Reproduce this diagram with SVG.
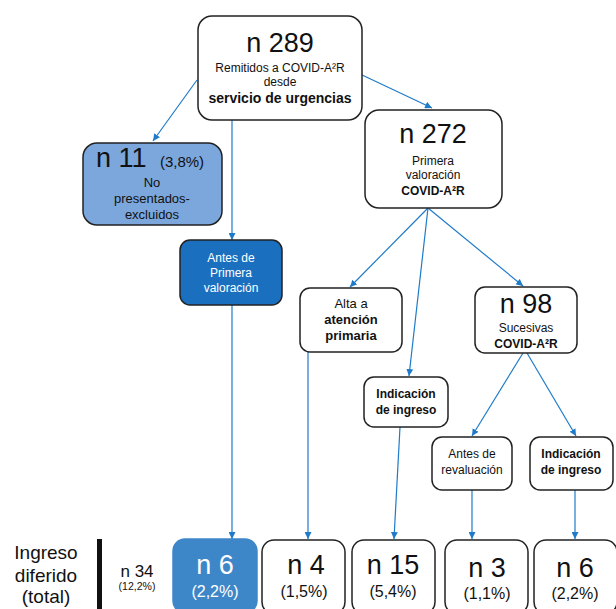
<svg xmlns="http://www.w3.org/2000/svg" width="616" height="609" viewBox="0 0 616 609">
<defs>
<marker id="ah" viewBox="0 0 10 10" refX="10" refY="5" markerWidth="7" markerHeight="7" markerUnits="userSpaceOnUse" orient="auto">
<path d="M0,0 L10,5 L0,10 z" fill="#1f7bc9"/>
</marker>
<style>
text{font-family:"Liberation Sans","Noto Sans",sans-serif;fill:#111;text-anchor:middle}
.box{fill:#fff;stroke:#222;stroke-width:1.5}
.big{font-size:27px}
.sm{font-size:12px}
.md{font-size:13px}
.b{font-weight:bold}
.w{fill:#fff}
.conn line{stroke:#1f7bc9;stroke-width:1.2;marker-end:url(#ah)}
</style>
</defs>
<rect width="616" height="609" fill="#fff"/>
<g class="conn">
<line x1="197" y1="80" x2="153" y2="141"/>
<line x1="232" y1="120" x2="232" y2="240"/>
<line x1="232" y1="305" x2="232" y2="539"/>
<line x1="360" y1="74" x2="432" y2="108"/>
<line x1="428" y1="208" x2="350" y2="287"/>
<line x1="428" y1="208" x2="409" y2="376"/>
<line x1="428" y1="208" x2="523" y2="286"/>
<line x1="308" y1="352" x2="308" y2="539"/>
<line x1="400" y1="427" x2="394" y2="539"/>
<line x1="523" y1="353" x2="472" y2="436"/>
<line x1="527" y1="353" x2="576" y2="436"/>
<line x1="472" y1="490" x2="472" y2="539"/>
<line x1="575" y1="490" x2="575" y2="539"/>
</g>
<g id="n289">
<rect class="box" x="198" y="16" width="164" height="104" rx="14" stroke-width="2"/>
<text x="280" y="52" class="big">n 289</text>
<text x="280" y="72" class="sm">Remitidos a COVID-A²R</text>
<text x="280" y="86" class="sm">desde</text>
<text x="280" y="103" class="b" font-size="14">servicio de urgencias</text>
</g>
<g id="n11">
<rect x="83" y="143" width="139" height="82" rx="14" fill="#7ba7dc" stroke="#222" stroke-width="1.5"/>
<text x="96" y="167" class="big" style="text-anchor:start">n 11</text>
<text x="182" y="167" font-size="15">(3,8%)</text>
<text x="152" y="187" class="md">No</text>
<text x="152" y="203" class="md">presentados-</text>
<text x="152" y="219" class="md">excluidos</text>
</g>
<g id="antes1">
<rect x="180" y="240" width="102" height="65" rx="10" fill="#1a6fbf" stroke="#222" stroke-width="1.5"/>
<text x="231" y="262" class="sm w">Antes de</text>
<text x="231" y="277" class="sm w">Primera</text>
<text x="231" y="292" class="sm w">valoración</text>
</g>
<g id="n272">
<rect class="box" x="365" y="110" width="137" height="98" rx="14"/>
<text x="433" y="143" class="big">n 272</text>
<text x="433" y="165" class="sm">Primera</text>
<text x="433" y="179" class="sm">valoración</text>
<text x="433" y="195" class="sm b">COVID-A²R</text>
</g>
<g id="alta">
<rect class="box" x="300" y="288" width="102" height="64" rx="10"/>
<text x="351" y="308" class="md">Alta a</text>
<text x="351" y="324" class="md b">atención</text>
<text x="351" y="340" class="md b">primaria</text>
</g>
<g id="indic1">
<rect class="box" x="364" y="377" width="84" height="50" rx="10"/>
<text x="406" y="398" class="sm b">Indicación</text>
<text x="406" y="414" class="sm b">de ingreso</text>
</g>
<g id="n98">
<rect class="box" x="475" y="287" width="102" height="66" rx="10"/>
<text x="526" y="313" class="big" font-size="26">n 98</text>
<text x="526" y="332" class="sm">Sucesivas</text>
<text x="526" y="348" class="sm b">COVID-A²R</text>
</g>
<g id="antesrev">
<rect class="box" x="432" y="437" width="80" height="53" rx="10"/>
<text x="472" y="458" class="sm">Antes de</text>
<text x="472" y="474" class="sm">revaluación</text>
</g>
<g id="indic2">
<rect class="box" x="530" y="437" width="83" height="53" rx="10"/>
<text x="571" y="458" class="sm b">Indicación</text>
<text x="571" y="474" class="sm b">de ingreso</text>
</g>
<g id="total">
<text x="46" y="559" font-size="19">Ingreso</text>
<text x="46" y="582" font-size="19">diferido</text>
<text x="46" y="603" font-size="19">(total)</text>
<rect x="97" y="539" width="5" height="70" fill="#111"/>
<text x="137" y="577" font-size="17">n 34</text>
<text x="137" y="590" font-size="10.5">(12,2%)</text>
</g>
<g id="b6a">
<rect x="173" y="539" width="84" height="74" rx="12" fill="#3d87c9" stroke="#3d87c9" stroke-width="1.5"/>
<text x="215" y="574" class="big w">n 6</text>
<text x="215" y="597" font-size="16" class="w">(2,2%)</text>
</g>
<g id="b4">
<rect class="box" x="262" y="540" width="83" height="74" rx="12" stroke="#444"/>
<text x="306" y="574" class="big">n 4</text>
<text x="304" y="597" font-size="16">(1,5%)</text>
</g>
<g id="b15">
<rect class="box" x="352" y="540" width="83" height="74" rx="12" stroke="#444"/>
<text x="393" y="574" class="big">n 15</text>
<text x="393" y="597" font-size="16">(5,4%)</text>
</g>
<g id="b3">
<rect class="box" x="445" y="540" width="83" height="74" rx="12" stroke="#444"/>
<text x="487" y="577" class="big">n 3</text>
<text x="487" y="599" font-size="16">(1,1%)</text>
</g>
<g id="b6b">
<rect class="box" x="534" y="540" width="83" height="74" rx="12" stroke="#444"/>
<text x="575" y="577" class="big">n 6</text>
<text x="575" y="599" font-size="16">(2,2%)</text>
</g>
</svg>
